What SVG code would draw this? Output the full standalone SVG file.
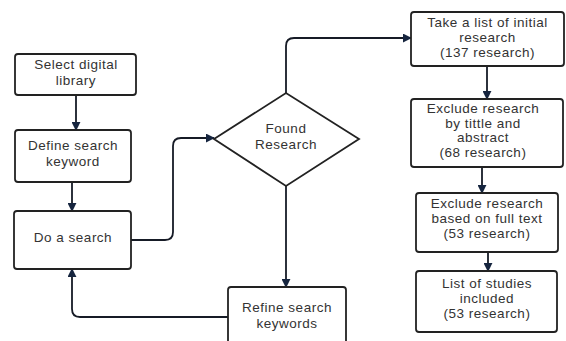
<svg xmlns="http://www.w3.org/2000/svg" width="566" height="341" viewBox="0 0 566 341">
<defs>
<style>
.box{fill:#fff;stroke:#222;stroke-width:1.8}
.t{font-family:"Liberation Sans",Arial,sans-serif;font-size:13.5px;letter-spacing:0.5px;fill:#333;text-anchor:middle}
.c{fill:none;stroke:#161b26;stroke-width:1.8}
</style>
<marker id="ah" viewBox="0 0 10 10" refX="9" refY="5" markerWidth="9" markerHeight="9" markerUnits="userSpaceOnUse" orient="auto">
<path d="M0,0 L10,5 L0,10 z" fill="#16253f"/>
</marker>
</defs>
<rect width="566" height="341" fill="#fff"/>
<g id="connectors">
<path class="c" d="M76,95 V130" marker-end="url(#ah)"/>
<path class="c" d="M72,182 V211" marker-end="url(#ah)"/>
<path class="c" d="M131,240 H165 Q173,240 173,232 V146 Q173,138 181,138 H214" marker-end="url(#ah)"/>
<path class="c" d="M286,93 V46 Q286,38 294,38 H411" marker-end="url(#ah)"/>
<path class="c" d="M487,66 V99" marker-end="url(#ah)"/>
<path class="c" d="M482,167 V193" marker-end="url(#ah)"/>
<path class="c" d="M488,252 V271" marker-end="url(#ah)"/>
<path class="c" d="M286,186 V287" marker-end="url(#ah)"/>
<path class="c" d="M228,317 H80 Q72,317 72,309 V269" marker-end="url(#ah)"/>
</g>
<g id="select">
<rect class="box" x="15" y="54" width="121" height="41" rx="3"/>
<text class="t" x="76" y="69">Select digital</text>
<text class="t" x="76" y="85">library</text>
</g>
<g id="define">
<rect class="box" x="15" y="130" width="116" height="52" rx="3"/>
<text class="t" x="73" y="150">Define search</text>
<text class="t" x="73" y="165.5">keyword</text>
</g>
<g id="dosearch">
<rect class="box" x="14" y="211" width="117" height="58" rx="3"/>
<text class="t" x="73" y="242">Do a search</text>
</g>
<g id="found">
<path class="box" d="M214,139 L286,93 L359,139 L286,186 Z"/>
<text class="t" x="286" y="133">Found</text>
<text class="t" x="286" y="149">Research</text>
</g>
<g id="refine">
<path class="box" d="M228,345 V290 Q228,287 231,287 H343 Q346,287 346,290 V345"/>
<text class="t" x="287" y="312">Refine search</text>
<text class="t" x="287" y="327.5">keywords</text>
</g>
<g id="take">
<rect class="box" x="411" y="12" width="153" height="54" rx="3"/>
<text class="t" x="487.5" y="27">Take a list of initial</text>
<text class="t" x="487.5" y="42">research</text>
<text class="t" x="487.5" y="57">(137 research)</text>
</g>
<g id="exclude1">
<rect class="box" x="411" y="99" width="152" height="68" rx="3"/>
<text class="t" x="483" y="113">Exclude research</text>
<text class="t" x="483" y="127.7">by tittle and</text>
<text class="t" x="483" y="142.4">abstract</text>
<text class="t" x="483" y="157.1">(68 research)</text>
</g>
<g id="exclude2">
<rect class="box" x="416" y="193" width="142" height="59" rx="3"/>
<text class="t" x="487" y="208">Exclude research</text>
<text class="t" x="487" y="223">based on full text</text>
<text class="t" x="487" y="238">(53 research)</text>
</g>
<g id="list">
<rect class="box" x="416" y="271" width="141" height="61" rx="3"/>
<text class="t" x="487" y="288">List of studies</text>
<text class="t" x="487" y="303">included</text>
<text class="t" x="487" y="318">(53 research)</text>
</g>
</svg>
